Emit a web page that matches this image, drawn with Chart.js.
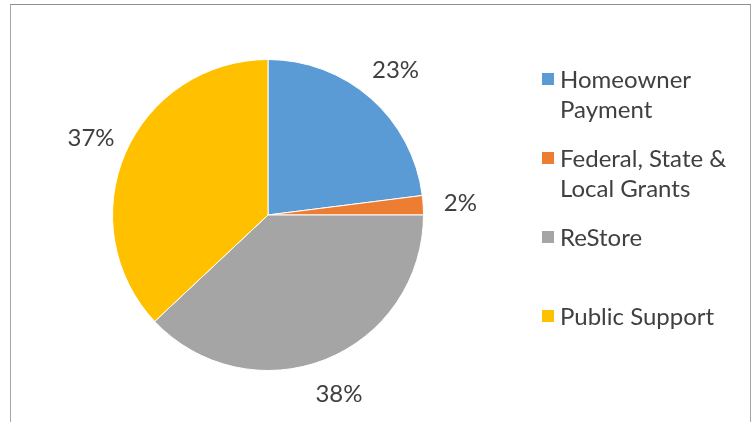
<!DOCTYPE html>
<html>
<head>
<meta charset="utf-8">
<script src="https://cdn.jsdelivr.net/npm/chart.js@4"></script>
<style>
    body { margin: 0; background: #fff; }
    #wrap { position: relative; width: 751px; height: 422px; overflow: hidden; }
    #frame { position: absolute; left: 10px; top: 4px; width: 739px; height: 440px; border: 1px solid #a6a6a6; border-top-color: #8f8f8f; }
    canvas { position: absolute; left: 0; top: 0; }
    .legend-item { position: absolute; left: 542px; font-family: Lato, "Open Sans", sans-serif; font-size: 24px; line-height: 30px; color: #404040; }
    .legend-box { position: absolute; left: 0; top: 9px; width: 12px; height: 12px; }
    .legend-text { margin-left: 18px; white-space: nowrap; }
</style>
</head>
<body>
<div id="wrap">
    <div id="frame"></div>
    <canvas id="pieChart" width="751" height="422"></canvas>
    <div id="legend"></div>
</div>
<script>
// Chart data
const categories = [
    ['Homeowner', 'Payment'],
    ['Federal, State &', 'Local Grants'],
    ['ReStore'],
    ['Public Support']
];
const shares = [23, 2, 38, 37];
const sliceColors = ['#5B9BD5', '#ED7D31', '#A5A5A5', '#FFC000'];

// Percent labels outside each slice
const outsideLabels = {
    id: 'outsideLabels',
    afterDatasetsDraw(chart) {
        const ctx = chart.ctx;
        const meta = chart.getDatasetMeta(0);
        ctx.save();
        ctx.font = '24px Lato, "Open Sans", sans-serif';
        ctx.fillStyle = '#404040';
        ctx.textAlign = 'center';
        ctx.textBaseline = 'middle';
        meta.data.forEach((arc, i) => {
            const mid = (arc.startAngle + arc.endAngle) / 2;
            const r = arc.outerRadius * 1.24;
            ctx.fillText(shares[i] + '%', arc.x + Math.cos(mid) * r, arc.y + Math.sin(mid) * r);
        });
        ctx.restore();
    }
};

const pieChart = new Chart(document.getElementById('pieChart'), {
    type: 'pie',
    data: {
        labels: categories,
        datasets: [{
            data: shares,
            backgroundColor: sliceColors,
            borderColor: '#ffffff',
            borderWidth: 1
        }]
    },
    options: {
        responsive: false,
        animation: false,
        layout: { padding: { left: 112, right: 327, top: 59, bottom: 51 } },
        plugins: {
            legend: { display: false },
            tooltip: { enabled: false }
        }
    },
    plugins: [outsideLabels]
});

// Legend on the right, one entry per category
const legend = document.getElementById('legend');
categories.forEach((lines, i) => {
    const item = document.createElement('div');
    item.className = 'legend-item';
    item.style.top = (64 + i * 79) + 'px';
    item.innerHTML = '<span class="legend-box" style="background:' + sliceColors[i] + '"></span>' +
        '<div class="legend-text">' + lines.join('<br>') + '</div>';
    legend.appendChild(item);
});
</script>
</body>
</html>
